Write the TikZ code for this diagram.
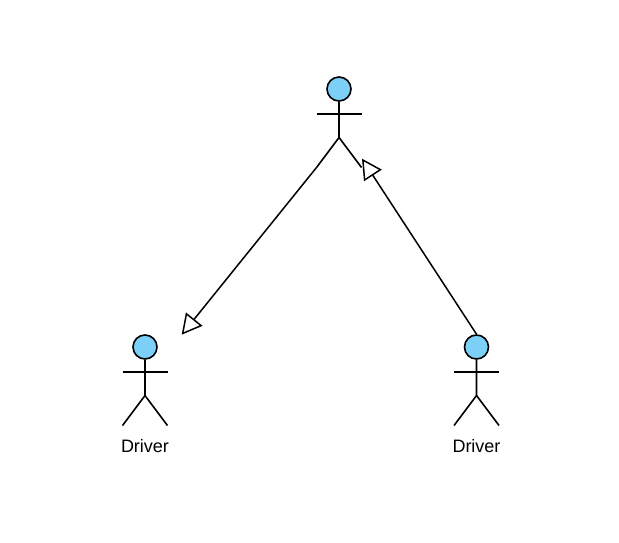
\documentclass[tikz,border=0pt]{standalone}
\usepackage{fontspec}
\setmainfont{Liberation Sans}
\usepackage{xcolor}
\definecolor{tsky}{RGB}{124,208,248}
\usetikzlibrary{arrows.meta}

\begin{document}
\begin{tikzpicture}[x=1pt,y=-1pt]
\tikzstyle{actorHead} = [
  shape=circle,
  minimum size=24pt,
  inner sep=0pt,
  draw = black,
  line width = 1.6pt,
  fill = tsky
]
\tikzstyle{actorLine} = [
  draw = black,
  line width = 1.6pt
]
\tikzstyle{tassoc} = [
  draw = black,
  line width = 1.5pt,
  -{Triangle[open,length=20pt,width=21pt,fill=white]}
]
\tikzstyle{actorName} = [
  font=\fontsize{18}{20}\selectfont,
  inner sep=0pt
]

\useasboundingbox (0,0) rectangle (619,543);

% top actor
\node[actorHead] (headT) at (339,89) {};
\coordinate (armLT) at (316.5,113.8);
\coordinate (armRT) at (361.5,113.8);
\coordinate (hipT) at (339,137.5);
\coordinate (legLT) at (316.5,167.5);
\coordinate (legRT) at (361.5,167.5);
\draw[actorLine] (headT) -- (hipT) -- (legLT);
\draw[actorLine] (hipT) -- (legRT);
\draw[actorLine] (armLT) -- (armRT);

% left actor
\node[actorHead] (headL) at (145,347) {};
\coordinate (armLL) at (122.5,371.8);
\coordinate (armRL) at (167.5,371.8);
\coordinate (hipL) at (145,395.5);
\coordinate (legLL) at (122.5,425.5);
\coordinate (legRL) at (167.5,425.5);
\draw[actorLine] (headL) -- (hipL) -- (legLL);
\draw[actorLine] (hipL) -- (legRL);
\draw[actorLine] (armLL) -- (armRL);
\node[actorName] (nameL) at (145,446) {Driver};

% right actor
\node[actorHead] (headR) at (476.5,347) {};
\coordinate (armLR) at (454,371.8);
\coordinate (armRR) at (499,371.8);
\coordinate (hipR) at (476.5,395.5);
\coordinate (legLR) at (454,425.5);
\coordinate (legRR) at (499,425.5);
\draw[actorLine] (headR) -- (hipR) -- (legLR);
\draw[actorLine] (hipR) -- (legRR);
\draw[actorLine] (armLR) -- (armRR);
\node[actorName] (nameR) at (476.5,446) {Driver};

% associations
\coordinate (tipL) at (181.7,334.7);
\coordinate (tipR) at (362,158.7);
\draw[tassoc] (legLT) -- (tipL);
\draw[tassoc] (headR.north) -- (tipR);

\end{tikzpicture}
\end{document}
